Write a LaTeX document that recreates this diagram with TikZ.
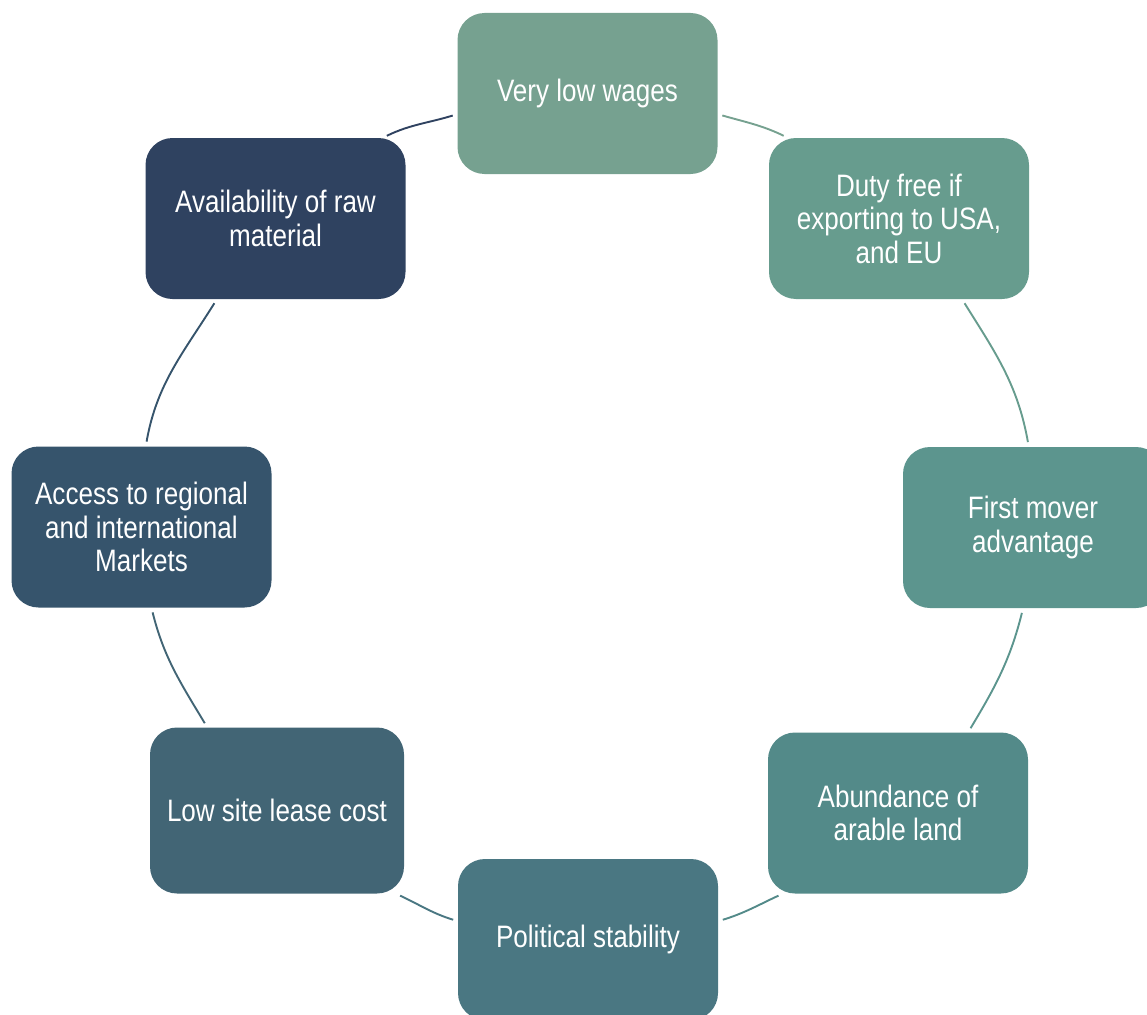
\documentclass[tikz,border=0pt]{standalone}
\usepackage{fontspec}
\setmainfont{Liberation Sans}[FakeStretch=0.84]
\usepackage{tikz}
\usepackage{xcolor}
\definecolor{wagescol}{HTML}{76A190}
\definecolor{dutycol}{HTML}{679C8E}
\definecolor{firstcol}{HTML}{5C958E}
\definecolor{abundcol}{HTML}{538A89}
\definecolor{politcol}{HTML}{4A7782}
\definecolor{leasecol}{HTML}{426575}
\definecolor{accesscol}{HTML}{36546C}
\definecolor{availcol}{HTML}{2F4260}
\begin{document}
\begin{tikzpicture}[x=1pt,y=1pt]
        \tikzstyle{every node}+=[inner sep=0pt, outer sep=0pt]
        \tikzstyle{box}=[rounded corners=27pt, minimum width=260pt, minimum height=161pt, text=white, align=center, font=\fontsize{31}{33.5}\selectfont]
        \tikzstyle{link}=[line width=1.9pt, shorten <=5pt, shorten >=5pt]
        \useasboundingbox (0,0) rectangle (1147,-1014);
        \clip (0,0) rectangle (1147,-1014);
        \node [box, fill=wagescol] (wages) at (587.5,-93.5) {Very low wages};
        \node [box, fill=dutycol] (duty) at (899,-218.5) {Duty free if\\exporting to USA,\\and EU};
        \node [box, fill=firstcol] (first) at (1033,-527.5) {First mover\\advantage};
        \node [box, fill=abundcol] (abund) at (898,-813) {Abundance of\\arable land};
        \node [box, fill=politcol] (polit) at (588,-939.5) {Political stability};
        \node [box, fill=leasecol, minimum width=254pt, minimum height=166pt] (lease) at (277,-810.5) {Low site lease cost};
        \node [box, fill=accesscol] (access) at (141.5,-527) {Access to regional\\and international\\Markets};
        \node [box, fill=availcol] (avail) at (275.5,-218.5) {Availability of raw\\material};
        \draw [link, wagescol] (wages.-9) to[out=-16, in=154] (duty.144);
        \draw [link, dutycol] (duty.-52) to[out=-58, in=100] (first.93);
        \draw [link, firstcol] (first.-97) to[out=-104, in=59] (abund.49);
        \draw [link, abundcol] (abund.-145) to[out=-155, in=17] (polit.8);
        \draw [link, politcol] (polit.172) to[out=163, in=-25] (lease.-35);
        \draw [link, leasecol] (lease.130) to[out=121, in=-76] (access.-83);
        \draw [link, accesscol] (access.87) to[out=80, in=238] (avail.234);
        \draw [link, availcol] (avail.37) to[out=26, in=197] (wages.189);
\end{tikzpicture}
\end{document}
